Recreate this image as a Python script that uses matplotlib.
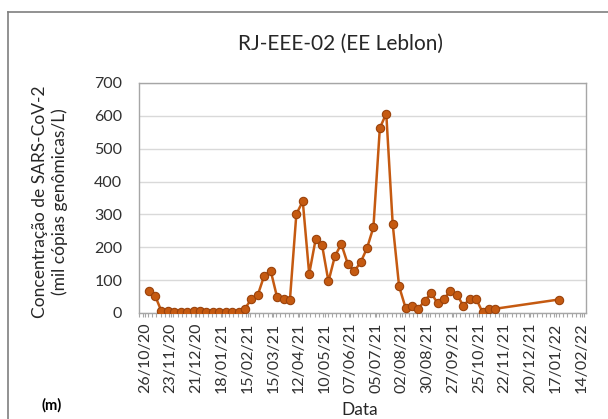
import numpy as np
import pandas as pd
import matplotlib
matplotlib.use("Agg")
import matplotlib.pyplot as plt
import matplotlib.dates as mdates
from matplotlib.lines import Line2D
from matplotlib.ticker import FixedLocator, MultipleLocator

plt.rcParams['font.family'] = ['Lato', 'DejaVu Sans']

# weekly sampling dates, plus one late sample in January 2022
sample_dates = list(pd.date_range('2020-10-30', periods=55, freq='7D')) + [pd.Timestamp('2022-01-20')]

# concentration (thousand genomic copies / L)
conc = [66, 53, 5, 5, 2, 2, 2, 5, 5, 2,
        2, 2, 2, 2, 2, 13, 43, 55, 114, 129,
        48, 43, 40, 301, 340, 119, 224, 207, 96, 173,
        210, 150, 127, 154, 197, 261, 563, 607, 271, 81,
        16, 20, 13, 38, 60, 30, 43, 68, 56, 22,
        43, 43, 2, 11, 13, 41]

# axis tick dates, every four weeks
tick_dates = pd.date_range('2020-10-26', '2022-02-14', freq='28D')
tick_labels = [d.strftime('%d/%m/%y') for d in tick_dates]
y_ticks = [0, 100, 200, 300, 400, 500, 600, 700]

line_color = '#C55A11'
edge_color = '#9A420B'
axis_gray = '#A6A6A6'
grid_gray = '#D9D9D9'
text_color = '#303030'

fig = plt.figure(figsize=(6.08, 4.19), dpi=100)
ax = fig.add_axes([139 / 608, 1 - 313 / 419, (586 - 139) / 608, (313 - 83) / 419])

x = mdates.date2num(sample_dates)
ax.plot(x, conc, color=line_color, linewidth=1.8, marker='o', markersize=6,
        markerfacecolor=line_color, markeredgecolor=edge_color, markeredgewidth=0.8,
        zorder=3)

ticks = mdates.date2num(tick_dates)
ax.set_xlim(ticks[0] - 6.5, ticks[-1] + 4.7)
ax.set_ylim(0, 700)

ax.xaxis.set_major_locator(FixedLocator(ticks))
ax.set_xticklabels(tick_labels, rotation=90, fontsize=11.5, color=text_color)
ax.xaxis.set_minor_locator(MultipleLocator(28 / 6))
ax.tick_params(axis='x', which='both', direction='out', length=3, width=0.8,
               color=axis_gray, pad=4)

ax.set_yticks(y_ticks)
ax.set_yticklabels([str(v) for v in y_ticks], fontsize=11.5, color=text_color)
ax.tick_params(axis='y', length=0, pad=12)

ax.grid(axis='y', color=grid_gray, linewidth=1.0, zorder=0)
ax.set_axisbelow(True)
for side in ['left', 'right', 'top', 'bottom']:
    ax.spines[side].set_color(axis_gray)
    ax.spines[side].set_linewidth(1.0)

fig.text(341 / 608, 1 - 44 / 419, 'RJ-EEE-02 (EE Leblon)', fontsize=15,
         ha='center', va='center', color='#262626')
fig.text(50 / 608, 1 - 202 / 419, 'Concentração de SARS-CoV-2\n(mil cópias genômicas/L)',
         fontsize=12.5, rotation=90, ha='center', va='center', color='#262626',
         linespacing=1.2, multialignment='center')
fig.text(360 / 608, 1 - 410 / 419, 'Data', fontsize=12.5,
         ha='center', va='center', color='#262626')
fig.text(52 / 608, 1 - 405 / 419, '(m)', fontsize=10.5, fontweight='bold',
         ha='center', va='center', color='black')

# chart frame
fig.add_artist(Line2D([8 / 608, 1], [1 - 12 / 419] * 2, color='#7F7F7F', linewidth=1.2))
fig.add_artist(Line2D([8 / 608] * 2, [0, 1 - 12 / 419], color='#7F7F7F', linewidth=1.2))

fig.savefig('out.png', dpi=100)
